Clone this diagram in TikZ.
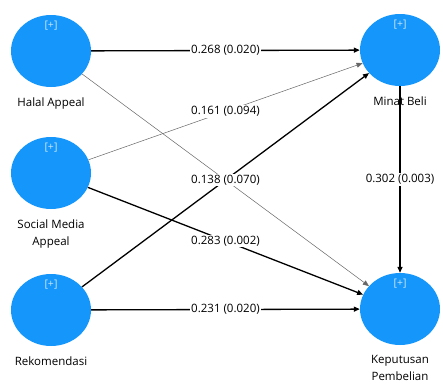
\documentclass[tikz,border=0pt]{standalone}
\usepackage{fontspec}
\setmainfont{Open Sans}
\usepackage{tikz}
\usetikzlibrary{positioning,shapes.geometric,arrows.meta}
\definecolor{lvblue}{RGB}{20,150,250}
\definecolor{plusblue}{RGB}{205,230,255}

\begin{document}
\begin{tikzpicture}[x=1pt, y=-1pt, node distance=8pt,
    latent/.style={ellipse, fill=lvblue, minimum width=80pt, minimum height=72pt, inner sep=0pt,
        label={[plustext]north:{[+]}}},
    plustext/.style={anchor=north, yshift=-6pt, inner sep=0pt, text=plusblue, font=\fontsize{10.5}{12}\selectfont},
    caption/.style={align=center, inner sep=0pt, font=\fontsize{11.5}{17}\selectfont},
    strong/.style={-{Triangle[length=6pt,width=5pt]}, line width=1.3pt, draw=black},
    weak/.style={-{Triangle[length=6pt,width=5pt]}, line width=0.5pt, draw=black!60},
    coef/.style={fill=white, text=black, inner sep=1pt, font=\fontsize{11.5}{13}\selectfont}]
    \useasboundingbox (0,0) rectangle (443,383);
    % Latent variables
    \node[latent] (ha) at (51,51) {};
    \node[latent] (sma) at (51,173) {};
    \node[latent] (rek) at (51,310) {};
    \node[latent] (mb) at (400,50) {};
    \node[latent] (kp) at (400,309) {};

    % Names
    \node[caption, below=10pt of ha] (haname) {Halal Appeal};
    \node[caption, below=10pt of sma] (smaname) {Social Media\\Appeal};
    \node[caption, below=10pt of rek] (rekname) {Rekomendasi};
    \node[caption, below=10pt of mb] (mbname) {Minat Beli};
    \node[caption, below=10pt of kp] (kpname) {Keputusan\\Pembelian};

    % Paths
    \draw[strong] (rek) -- (mb);
    \draw[weak] (sma) -- node[coef] {0.161 (0.094)} (mb);
    \draw[weak] (ha) -- node[coef] {0.138 (0.070)} (kp);
    \draw[strong] (ha) -- node[coef] {0.268 (0.020)} (mb);
    \draw[strong] (sma) -- node[coef] {0.283 (0.002)} (kp);
    \draw[strong] (rek) -- node[coef] {0.231 (0.020)} (kp);
    \draw[strong] (mb) -- node[coef] {0.302 (0.003)} (kp);
\end{tikzpicture}
\end{document}
